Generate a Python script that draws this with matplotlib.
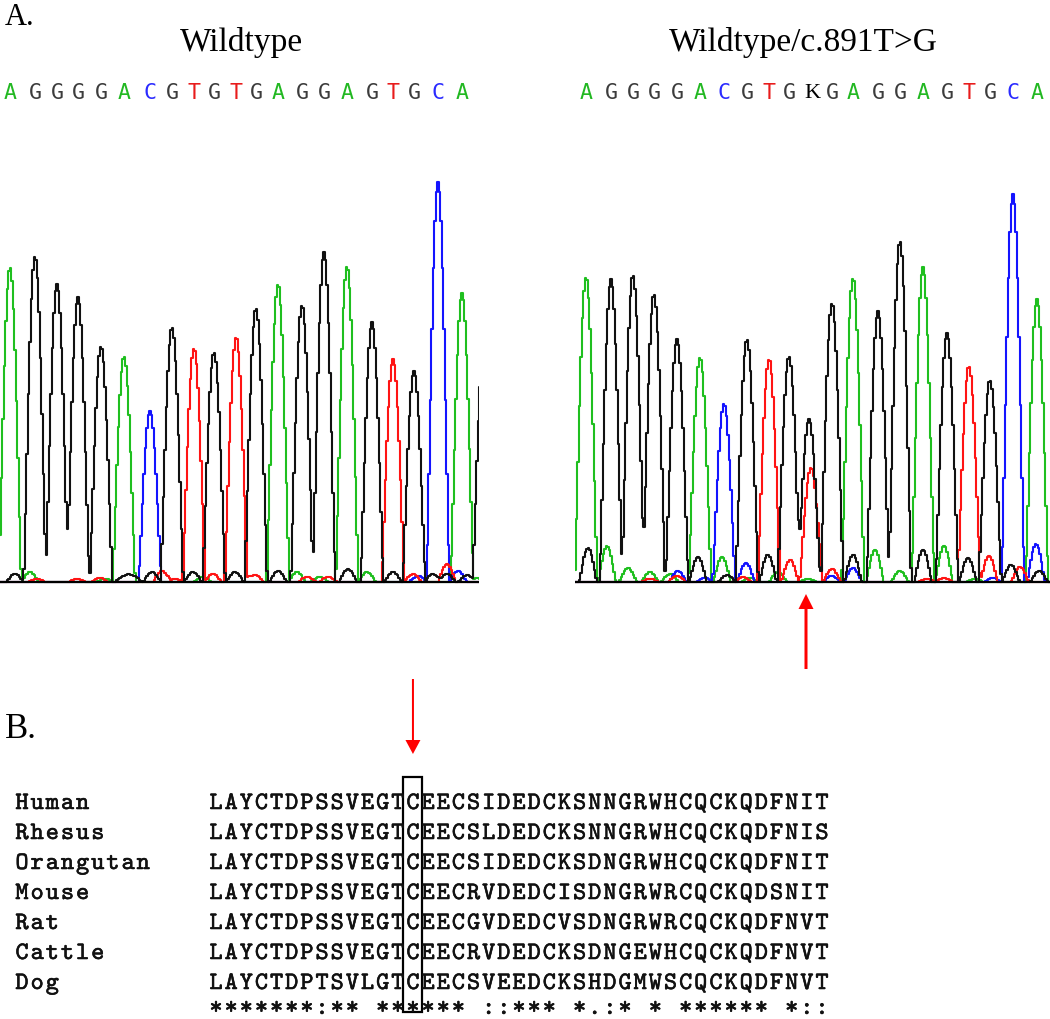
import numpy as np
import matplotlib

matplotlib.use("Agg")
import matplotlib.pyplot as plt
import matplotlib.patheffects as pe
from matplotlib.patches import Rectangle

# ── A. chromatograms: peak positions (scan px), heights, base of each peak ──
left_bases = "AGGGGACGTGTGAGGAGTGCAG"
left_pos = [10, 35, 57, 78, 101, 124, 150, 172, 194, 214, 236, 256, 278, 302,
            324, 347, 372, 393, 414, 438, 462, 484]
left_height = [315, 326, 298, 285, 236, 226, 171, 255, 234, 230, 243, 274, 298,
               277, 330, 316, 260, 223, 211, 400, 289, 235]
left_calls = "AGGGGACGTGTGAGGAGTGCA"

left_noise_pos = [15, 30, 37, 77, 100, 105, 124, 133, 152, 162, 175, 193, 203,
                  213, 235, 243, 255, 278, 297, 307, 320, 328, 348, 367, 393,
                  413, 418, 433, 447, 447, 458, 467, 477]
left_noise_base = "GATTTAGGGTTGATGTTGATATGAGTCGTGCGA"
left_noise_h = [8, 10, 3, 3, 4, 3, 6, 6, 10, 11, 3, 10, 5, 8, 10, 6, 7, 11, 10,
                5, 5, 5, 13, 10, 10, 8, 6, 8, 18, 8, 11, 7, 4]

right_bases = "AGGGGACGTGGGAGGAGTGCA"
right_pos = [586, 611, 633, 654, 677, 700, 724, 747, 769, 789, 809, 832, 853,
             878, 900, 923, 947, 969, 990, 1013, 1037]
right_height = [305, 303, 307, 288, 243, 225, 178, 243, 223, 226, 163, 279, 304,
                271, 341, 315, 249, 216, 202, 388, 283]
right_calls = "AGGGGACGTGKGAGGAGTGCA"
het_pos = [811]
het_height = [114]
het_base = "T"

right_noise_pos = [588, 607, 628, 650, 650, 670, 678, 677, 698, 705, 722, 727,
                   743, 746, 750, 768, 778, 790, 808, 832, 832, 853, 853, 875,
                   900, 923, 927, 944, 944, 968, 975, 989, 993, 1011, 1020,
                   1036, 1039]
right_noise_base = "GAAATACTGCAGTCAGATATCGCAAGTATGATCGTCG"
right_noise_h = [34, 36, 14, 10, 3, 8, 11, 6, 25, 4, 25, 7, 5, 19, 4, 27, 10,
                 22, 3, 13, 6, 27, 14, 32, 11, 32, 3, 36, 4, 24, 3, 26, 4, 17,
                 15, 38, 11]

# ── B. alignment ──
species = ["Human", "Rhesus", "Orangutan", "Mouse", "Rat", "Cattle", "Dog"]
sequences = [
    "LAYCTDPSSVEGTCEECSIDEDCKSNNGRWHCQCKQDFNIT",
    "LAYCTDPSSVEGTCEECSLDEDCKSNNGRWHCQCKQDFNIS",
    "LAYCTDPSSVEGTCEECSIDEDCKSDNGRWHCQCKQDFNIT",
    "LAYCTDPSSVEGTCEECRVDEDCISDNGRWRCQCKQDSNIT",
    "LAYCTDPSSVEGTCEECGVDEDCVSDNGRWRCQCKQDFNVT",
    "LAYCTDPSSVEGTCEECRVDEDCKSDNGEWHCQCKQDFNVT",
    "LAYCTDPTSVLGTCEECSVEEDCKSHDGMWSCQCKQDFNVT",
]
consensus = "*******:** ****** ::*** *.:* * ****** *::"
mutated_col = 13

TRACE = {"A": "#1fbf1f", "G": "#111111", "T": "#ff1414", "C": "#1414ff"}
CALL = {"A": "#22b822", "G": "#3c3c3c", "T": "#e81c1c", "C": "#2b2bff"}

W, H = 1050, 1020
fig = plt.figure(figsize=(W / 100, H / 100), dpi=100, facecolor="white")


def px_axes(x0, y0, x1, y1):
    return fig.add_axes([x0 / W, 1 - y1 / H, (x1 - x0) / W, (y1 - y0) / H])


def channel(x, pos, h, bases, ch, w):
    y = np.zeros_like(x)
    for p, hh, b in zip(pos, h, bases):
        if b == ch:
            d = x - p
            shape = np.where(np.abs(d) < w, 0.5 * (1 + np.cos(np.pi * d / w)), 0)
            y += hh * shape ** 0.6
    return y


def chromatogram(ax, x0, x1, peaks, noise):
    x = np.arange(x0, x1 + 2, 1.5)
    for ch in "ACTG":
        y = sum(channel(x, *pk, ch, 11.5) for pk in peaks)
        y = y + channel(x, *noise, ch, 9)
        ax.plot(x, y, color=TRACE[ch], lw=1.5, drawstyle="steps-mid")
    ax.axhline(0, color="black", lw=1.6)
    ax.set_xlim(x0, x1)
    ax.set_ylim(-7, 433)
    ax.axis("off")


axL = px_axes(0, 150, 479, 590)
chromatogram(axL, 0, 479, [(left_pos, left_height, left_bases)],
             (left_noise_pos, left_noise_h, left_noise_base))
axR = px_axes(575, 150, 1050, 590)
chromatogram(axR, 575, 1050,
             [(right_pos, right_height, right_bases),
              (het_pos, het_height, het_base)],
             (right_noise_pos, right_noise_h, right_noise_base))

# overlay in pixel coordinates for labels, calls, arrows and the alignment
ov = fig.add_axes([0, 0, 1, 1])
ov.set_xlim(0, W)
ov.set_ylim(H, 0)
ov.axis("off")

serif = "Liberation Serif"
ov.text(5, 25, "A.", family=serif, fontsize=22, va="baseline")
ov.text(241, 51, "Wildtype", family=serif, fontsize=24, ha="center", va="baseline")
ov.text(803, 51, "Wildtype/c.891T>G", family=serif, fontsize=24, ha="center",
        va="baseline")
ov.text(5, 738, "B.", family=serif, fontsize=25, va="baseline")

for pos, calls in [(left_pos, left_calls), (right_pos, right_calls)]:
    for p, b in zip(pos, calls):
        if b == "K":
            ov.text(p + 3, 93, b, family=serif, fontsize=16, color="black",
                    ha="center", va="center")
        else:
            ov.text(p, 93, b, family="DejaVu Sans Mono", fontsize=15.5,
                    color=CALL[b], ha="center", va="center")

# heterozygous site marker
k_x = right_pos[right_calls.index("K")]
ov.arrow(k_x - 3, 670, 0, -75, width=3, head_width=15, head_length=15,
         length_includes_head=True, color="red", lw=0)

# alignment block
pitch = 15.15
name_x0, seq_x0 = 22, 216
row_y0, row_dy = 810, 30
mono = "cmtt10"
bold = [pe.withStroke(linewidth=0.4, foreground="#111111")]
rows = list(zip(species, sequences)) + [("", consensus)]
for r, (name, seq) in enumerate(rows):
    y = row_y0 + r * row_dy if name else 1015
    for i, ch in enumerate(name):
        ov.text(name_x0 + i * pitch, y, ch, family=mono, fontsize=18,
                color="#111111", ha="center", va="baseline", path_effects=bold)
    for i, ch in enumerate(seq):
        if ch != " ":
            ov.text(seq_x0 + i * pitch, y, ch, family=mono, fontsize=18,
                    color="#111111", ha="center", va="baseline",
                    path_effects=bold)

col_x = seq_x0 + mutated_col * pitch
ov.add_patch(Rectangle((col_x - 9.5, 778), 19, 235, fill=False, ec="black",
                       lw=1.6))
ov.arrow(col_x, 680, 0, 75, width=2, head_width=15, head_length=14,
         length_includes_head=True, color="red", lw=0)

fig.savefig("out.png", dpi=100, facecolor="white")
